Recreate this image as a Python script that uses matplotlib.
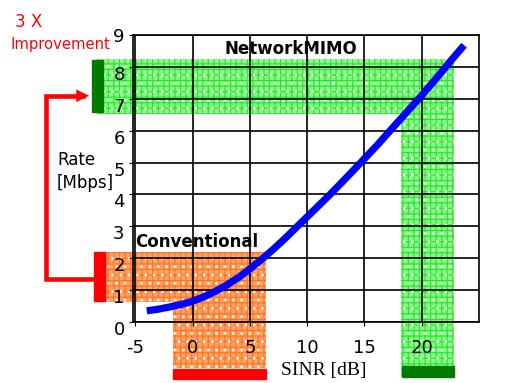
import matplotlib
matplotlib.use('Agg')
import matplotlib.pyplot as plt
import matplotlib.transforms as mtransforms
from matplotlib.patches import Rectangle

plt.rcParams['axes.unicode_minus'] = False
plt.rcParams['hatch.linewidth'] = 0.8

# curve
sinr = [-4, -3, -2, -1, 0, 1, 2, 3, 4, 5, 6, 7, 8, 9, 10, 11, 12, 13, 14,
        15, 16, 17, 18, 19, 20, 21, 22, 23, 23.7]
rate = [0.36, 0.41, 0.48, 0.56, 0.66, 0.8, 0.97, 1.17, 1.4, 1.67, 1.96, 2.27,
        2.6, 2.95, 3.3, 3.65, 4.0, 4.37, 4.74, 5.12, 5.5, 5.9, 6.3, 6.7, 7.1,
        7.52, 7.95, 8.38, 8.67]

xticks = [-5, 0, 5, 10, 15, 20]
yticks = [0, 1, 2, 3, 4, 5, 6, 7, 8, 9]

# shaded bands (x0, x1, y0, y1) in data units
mimo_h = (-8.3, 22.8, 6.53, 8.25)
mimo_v = (18.2, 22.8, -1.7, 6.53)
conv_h = (-8.06, 6.43, 0.64, 2.21)
conv_v = (-1.7, 6.43, -1.42, 0.64)

fig = plt.figure(figsize=(5.11, 3.83), dpi=100)
ax = fig.add_axes([0.2603, 0.1585, 0.6771, 0.7509])
ax.set_xlim(-5.2, 25)
ax.set_ylim(0, 9)


def band(b, face, line):
    x0, x1, y0, y1 = b
    ax.add_patch(Rectangle((x0, y0), x1 - x0, y1 - y0, facecolor=face,
                           edgecolor='none', lw=0, clip_on=False, zorder=0))
    ax.add_patch(Rectangle((x0, y0), x1 - x0, y1 - y0, facecolor='none',
                           edgecolor=line, hatch='+++', lw=0, clip_on=False, zorder=0))
    ax.add_patch(Rectangle((x0, y0), x1 - x0, y1 - y0, facecolor='none',
                           edgecolor='white', hatch='..', lw=0, clip_on=False, zorder=0))


band(mimo_h, '#80ff80', '#33dd33')
band(mimo_v, '#80ff80', '#33dd33')
band(conv_h, '#ffa264', '#ff7420')
band(conv_v, '#ffa264', '#ff7420')

# solid markers beside the bands
ax.add_patch(Rectangle((-8.75, 6.57), 0.95, 1.64, color='#007a00', clip_on=False, zorder=1))
ax.add_patch(Rectangle((18.3, -1.70), 4.5, 0.34, color='#007a00', clip_on=False, zorder=1))
ax.add_patch(Rectangle((-8.6, 0.67), 0.95, 1.54, color='#ff0000', clip_on=False, zorder=1))
ax.add_patch(Rectangle((-1.75, -1.77), 8.2, 0.32, color='#ff0000', clip_on=False, zorder=1))

ax.grid(True, color='black', lw=1.2)
ax.set_axisbelow(False)
for s in ax.spines.values():
    s.set_linewidth(1.2)
ax.set_xticks(xticks)
ax.set_yticks(yticks)
ax.tick_params(axis='x', length=3, pad=9, labelsize=13)
ax.tick_params(axis='y', length=3, pad=3, labelsize=13)
ax.patch.set_alpha(0)

off = mtransforms.ScaledTranslation(0, -6 / 100, fig.dpi_scale_trans)
for lab in ax.get_yticklabels()[:-1]:
    lab.set_transform(lab.get_transform() + off)

ax.plot(sinr, rate, color='#0000ff', lw=5.2, solid_capstyle='butt', zorder=5)

# red bracket arrow
ax.plot([-8.6, -12.8, -12.8, -9.6], [1.35, 1.35, 7.09, 7.09], color='#ff0000',
        lw=3.3, clip_on=False, solid_joinstyle='miter', zorder=2)
ax.annotate('', xy=(-8.8, 7.09), xytext=(-10.2, 7.09),
            arrowprops=dict(arrowstyle='-|>,head_length=0.9,head_width=0.45',
                            color='#ff0000', lw=0.1), annotation_clip=False)

ax.text(8.6, 8.55, 'NetworkMIMO', fontsize=12, fontweight='bold', ha='center', va='center')
ax.text(-5.0, 2.5, 'Conventional', fontsize=12, fontweight='bold', ha='left', va='center')

fig.text(15 / 511, 1 - 22 / 383, '3 X', color='#ff0000', fontsize=12, ha='left', va='center')
fig.text(11 / 511, 1 - 45 / 383, 'Improvement', color='#ff0000', fontsize=10.6, ha='left', va='center')
fig.text(57 / 511, 1 - 160 / 383, 'Rate', fontsize=12, ha='left', va='center')
fig.text(57 / 511, 1 - 183 / 383, '[Mbps]', fontsize=12, ha='left', va='center')
fig.text(324 / 511, 1 - 370 / 383, 'SINR [dB]', fontsize=14, family='Liberation Serif',
         ha='center', va='center')

fig.savefig('out.png', dpi=100)
